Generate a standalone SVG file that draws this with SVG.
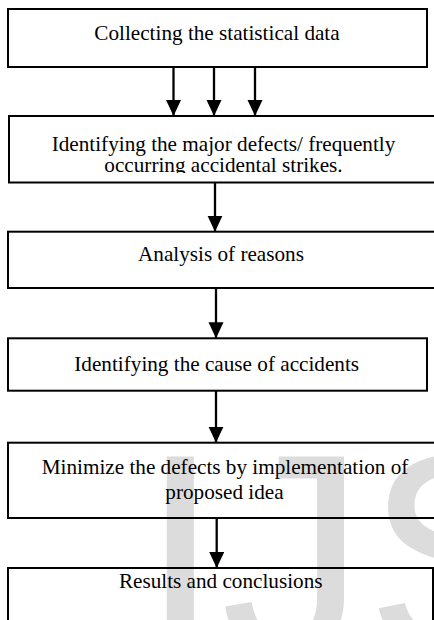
<svg xmlns="http://www.w3.org/2000/svg" width="434" height="620" viewBox="0 0 434 620">
  <style>
    .box { fill: none; stroke: #000; stroke-width: 2; }
    .lbl { font-family: "Liberation Serif", "Times New Roman", serif; font-size: 21.2px; fill: #000; text-anchor: middle; }
    .conn { stroke: #000; stroke-width: 2.3; fill: none; }
    .wm { font-family: "Liberation Sans", Arial, sans-serif; font-size: 290px; fill: #dcdcdc; }
  </style>
  <defs>
    <marker id="ah" markerWidth="16" markerHeight="16" refX="16" refY="7.5" orient="auto" markerUnits="userSpaceOnUse">
      <path d="M0,0 L16,7.5 L0,15 z" fill="#000"/>
    </marker>
    <clipPath id="clip2">
      <rect x="9" y="116" width="430" height="57"/>
    </clipPath>
  </defs>
  <rect width="434" height="620" fill="#fff"/>
  <text class="wm" x="140" y="656">IJS</text>

  <g id="n1">
    <rect class="box" x="8" y="9" width="419" height="58"/>
    <text class="lbl" x="217" y="39.5">Collecting the statistical data</text>
  </g>
  <g id="n2">
    <rect class="box" x="9" y="116" width="429" height="66.5"/>
    <g clip-path="url(#clip2)">
      <text class="lbl" x="223.5" y="151">Identifying the major defects/ frequently</text>
      <text class="lbl" x="223.5" y="172">occurring accidental strikes.</text>
    </g>
  </g>
  <g id="n3">
    <rect class="box" x="8" y="231.7" width="430" height="56.3"/>
    <text class="lbl" x="221" y="260.7">Analysis of reasons</text>
  </g>
  <g id="n4">
    <rect class="box" x="8" y="338.3" width="419" height="52.4"/>
    <text class="lbl" x="216.7" y="370.5">Identifying the cause of accidents</text>
  </g>
  <g id="n5">
    <rect class="box" x="8" y="442.7" width="432" height="75.3"/>
    <text class="lbl" x="225" y="474.3">Minimize the defects by implementation of</text>
    <text class="lbl" x="224.5" y="499.3">proposed idea</text>
  </g>
  <g id="n6">
    <rect class="box" x="8" y="568" width="425" height="60"/>
    <text class="lbl" x="220.7" y="587.7">Results and conclusions</text>
  </g>

  <g id="connectors">
    <line class="conn" x1="173.5" y1="67" x2="173.5" y2="116" marker-end="url(#ah)"/>
    <line class="conn" x1="214" y1="67" x2="214" y2="116" marker-end="url(#ah)"/>
    <line class="conn" x1="255" y1="67" x2="255" y2="116" marker-end="url(#ah)"/>
    <line class="conn" x1="215" y1="182.5" x2="215" y2="231.7" marker-end="url(#ah)"/>
    <line class="conn" x1="216" y1="288" x2="216" y2="338.3" marker-end="url(#ah)"/>
    <line class="conn" x1="216" y1="390.7" x2="216" y2="442.7" marker-end="url(#ah)"/>
    <line class="conn" x1="216.7" y1="518" x2="216.7" y2="568" marker-end="url(#ah)"/>
  </g>
</svg>
